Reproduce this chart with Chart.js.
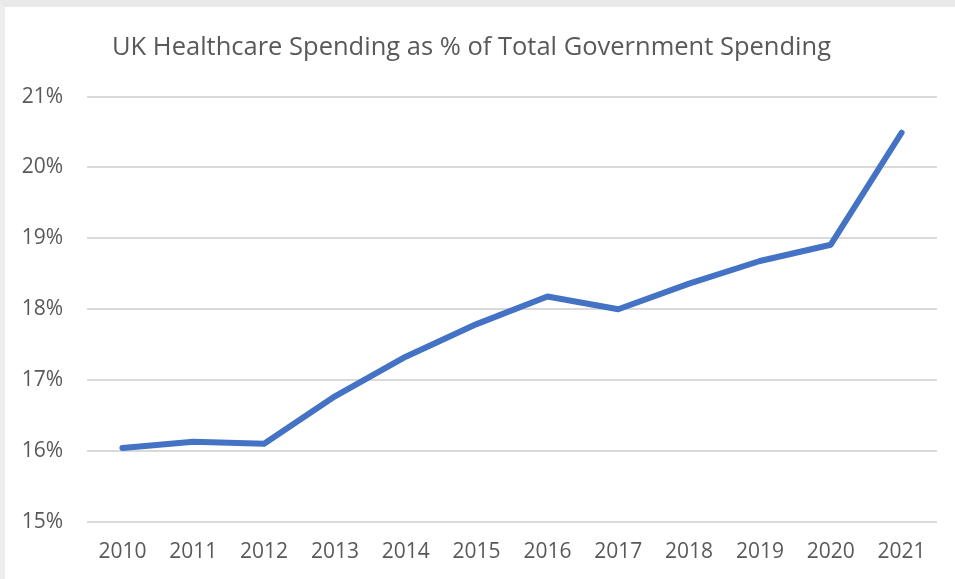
<!DOCTYPE html>
<html>
<head>
<meta charset="utf-8">
<script src="https://cdn.jsdelivr.net/npm/chart.js@4"></script>
<style>
  html, body { margin:0; padding:0; background:#fff; }
  body { width:955px; height:579px; overflow:hidden; position:relative; }
  .frame { position:absolute; left:0; top:0; width:955px; height:579px; box-sizing:border-box;
           border-top:7px solid #e9e9e9; border-left:5px solid #ededed; }
  .wrap { position:absolute; left:6px; top:8px; width:949px; height:571px; }
</style>
</head>
<body>
<div class="frame"></div>
<div class="wrap"><canvas id="chart"></canvas></div>
<script>
// === Data ===
const YEARS = ['2010','2011','2012','2013','2014','2015','2016','2017','2018','2019','2020','2021'];
const SHARE = [16.04, 16.13, 16.10, 16.77, 17.33, 17.79, 18.18, 18.00, 18.36, 18.68, 18.91, 20.49];
const Y_MIN = 15, Y_MAX = 21;

const FONT = "'Open Sans', 'Noto Sans', sans-serif";
const GREY = '#595959';

new Chart(document.getElementById('chart'), {
  type: 'line',
  data: {
    labels: YEARS,
    datasets: [{
      label: 'Healthcare share',
      data: SHARE,
      borderColor: '#4472c4',
      borderWidth: 6,
      pointRadius: 0,
      tension: 0,
      borderCapStyle: 'round',
      borderJoinStyle: 'round',
      fill: false
    }]
  },
  options: {
    responsive: true,
    maintainAspectRatio: false,
    animation: false,
    layout: { padding: { left: 0, right: 18, top: 0, bottom: 4 } },
    plugins: {
      legend: { display: false },
      tooltip: { enabled: false },
      title: {
        display: true,
        text: 'UK Healthcare Spending as % of Total Government Spending',
        color: GREY,
        font: { family: FONT, size: 25.5, weight: 'normal' },
        padding: { top: 24, bottom: 34 }
      }
    },
    scales: {
      x: {
        offset: true,
        grid: { display: false },
        border: { display: false },
        ticks: { color: GREY, font: { family: FONT, size: 21 }, padding: 10, maxRotation: 0 }
      },
      y: {
        min: Y_MIN, max: Y_MAX,
        grid: { color: '#d9d9d9', lineWidth: 2, drawTicks: false },
        border: { display: false },
        ticks: { stepSize: 1, color: GREY, font: { family: FONT, size: 21 }, padding: 24,
                 callback: v => v + '%' },
        afterFit: s => { s.width = 81; }
      }
    }
  }
});
</script>
</body>
</html>
